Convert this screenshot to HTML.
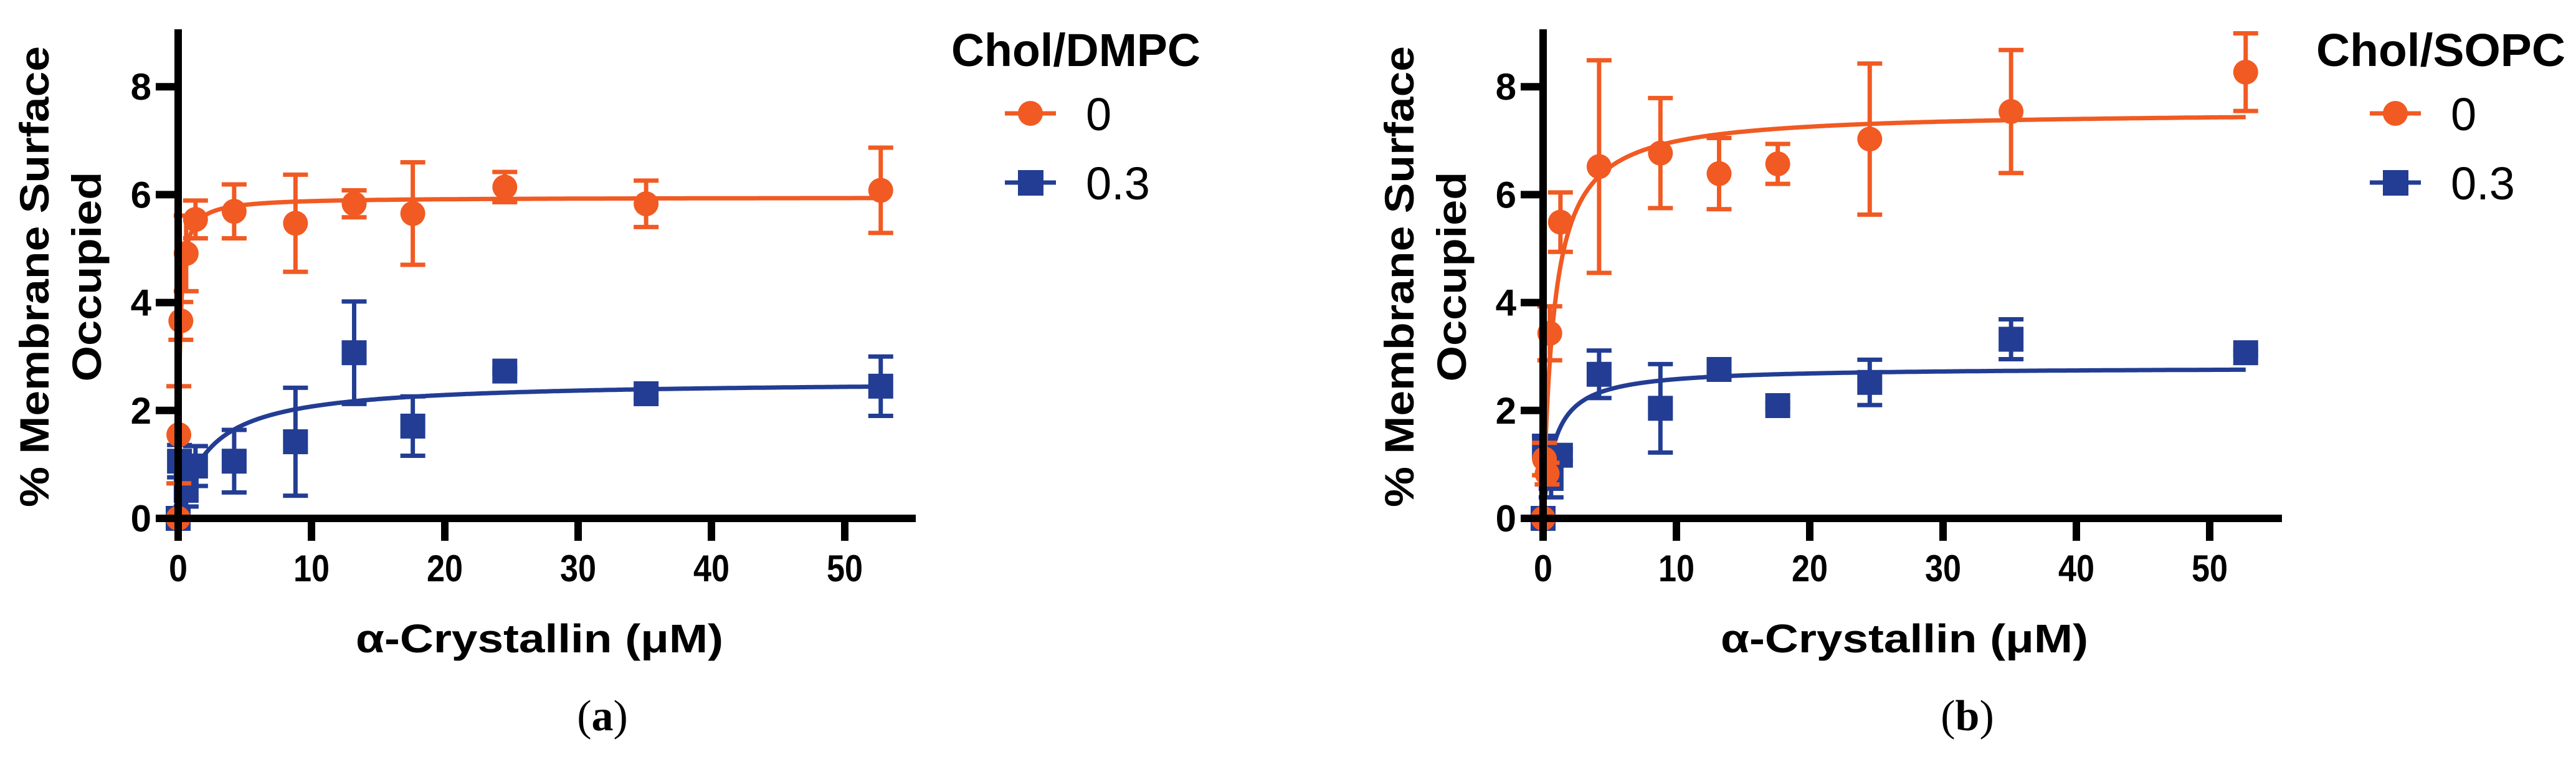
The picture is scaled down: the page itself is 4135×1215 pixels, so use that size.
<!DOCTYPE html>
<html><head><meta charset="utf-8"><style>
html,body{margin:0;padding:0;background:#fff;}
svg{display:block;}
text{font-family:"Liberation Sans",Arial,sans-serif;}
</style></head><body>
<svg id="fig" width="4135" height="1215" viewBox="0 0 4135 1215" xmlns="http://www.w3.org/2000/svg"></svg>
<script>
// ---- Data ----
const xTicks = [0,10,20,30,40,50];
const yTicks = [0,2,4,6,8];
// Panel (a) Chol/DMPC
const aOrangeX = [0,0.05,0.2,0.6,1.3,4.2,8.8,13.2,17.6,24.5,35.1,52.7];
const aOrangeY = [0,1.55,3.66,4.91,5.54,5.69,5.47,5.83,5.65,6.14,5.83,6.08];
const aOrangeErr = [0,0.9,0.35,0.7,0.35,0.5,0.9,0.25,0.95,0.28,0.43,0.79];
const aBlueX = [0,0.1,0.6,1.3,4.2,8.8,13.2,17.6,24.5,35.1,52.7];
const aBlueY = [0,1.06,0.52,0.97,1.06,1.42,3.07,1.71,2.73,2.31,2.45];
const aBlueErr = [0,0.3,0.3,0.37,0.58,1.0,0.95,0.55,0.05,0.1,0.55];
const aFitBmax = [5.95, 2.55];
const aFitKd = [0.12, 2.3];
// Panel (b) Chol/SOPC
const bOrangeX = [0,0.1,0.3,0.5,1.3,4.2,8.8,13.2,17.6,24.5,35.1,52.7];
const bOrangeY = [0,1.1,0.83,3.43,5.49,6.52,6.77,6.39,6.57,7.03,7.54,8.27];
const bOrangeErr = [0,0.3,0.2,0.5,0.55,1.97,1.02,0.66,0.37,1.4,1.14,0.72];
const bBlueX = [0,0.1,0.6,1.3,4.2,8.8,13.2,17.6,24.5,35.1,52.7];
const bBlueY = [0,1.33,0.74,1.17,2.67,2.04,2.76,2.09,2.52,3.32,3.07];
const bBlueErr = [0,0.2,0.35,0.1,0.44,0.82,0.05,0.05,0.42,0.37,0.05];
const bFitBmax = [7.55, 2.8];
const bFitKd = [0.8, 0.85];
const legendLabels = ["0","0.3"];

const NS = "http://www.w3.org/2000/svg";
const ORANGE = "#f15a22", BLUE = "#223d93";
const svg = document.getElementById('fig');
function el(tag, attrs, parent, txt){
  const e = document.createElementNS(NS, tag);
  for (const k in attrs) e.setAttribute(k, attrs[k]);
  if (txt !== undefined) e.textContent = txt;
  parent.appendChild(e); return e;
}
const X0 = 286, XU = 21.4, Y0 = 832, YU = 86.6;
function sx(v){ return X0 + v*XU; }
function sy(v){ return Y0 - v*YU; }

function drawSeries(g, xs, ys, es, color, shape, name){
  const sg = el('g', {}, g);
  
  
  for (let i=0;i<xs.length;i++){
    const cx = sx(xs[i]), cy = sy(ys[i]);
    if (es[i] > 0){
      const eb = el('g', {stroke: color, 'stroke-width': 7}, sg);
      
      
      const top = sy(ys[i]+es[i]), bot = sy(Math.max(0, ys[i]-es[i]));
      el('line', {x1:cx, x2:cx, y1:top, y2:bot}, eb);
      el('line', {x1:cx-20, x2:cx+20, y1:top, y2:top}, eb);
      el('line', {x1:cx-20, x2:cx+20, y1:bot, y2:bot}, eb);
    }
    let m;
    if (shape === 'circle') m = el('circle', {cx:cx, cy:cy, r:20, fill:color}, sg);
    else m = el('rect', {x:cx-20, y:cy-20, width:40, height:40, fill:color}, sg);
    
    
  }
}
function drawFit(g, bmax, kd, color, name){
  let d = '';
  for (let i=0;i<=600;i++){
    const x = 52.7 * Math.pow(i/600, 2.5);
    const y = bmax*x/(kd+x);
    d += (i?'L':'M') + sx(x).toFixed(1) + ',' + sy(y).toFixed(1);
  }
  const p = el('path', {d:d, fill:'none', stroke:color, 'stroke-width':7}, g);
  
  
}

function panel(offset, id, legendTitle, oX, oY, oE, bX, bY, bE, bmax, kd, tag){
  const g = el('g', {transform:'translate(' + offset + ',0)'}, svg);
  
  
  // y axis title
  const yt = el('g', {}, g);
  
  
  el('text', {x:0, y:0, transform:'translate(78,444) rotate(-90)', 'text-anchor':'middle', 'font-size':66, 'font-weight':'bold', textLength:740, lengthAdjust:'spacingAndGlyphs'}, yt, '% Membrane Surface');
  el('text', {x:0, y:0, transform:'translate(162,444) rotate(-90)', 'text-anchor':'middle', 'font-size':66, 'font-weight':'bold', textLength:337, lengthAdjust:'spacingAndGlyphs'}, yt, 'Occupied');
  // series (blue under orange)
  drawFit(g, bmax[1], kd[1], BLUE, 'blue-0.3');
  drawSeries(g, bX, bY, bE, BLUE, 'square', 'blue-0.3');
  drawFit(g, bmax[0], kd[0], ORANGE, 'orange-0');
  drawSeries(g, oX, oY, oE, ORANGE, 'circle', 'orange-0');
  // axes
  const ax = el('g', {stroke:'#000', 'stroke-width':12}, g);
  
  
  el('line', {x1:X0, x2:X0, y1:47, y2:Y0+6}, ax);
  el('line', {x1:X0-6, x2: id==='a'?1470:1472, y1:Y0, y2:Y0}, ax);
  yTicks.forEach(t=>{
    el('line', {x1:X0-36, x2:X0, y1:sy(t), y2:sy(t)}, ax);
    const tl = el('text', {x:243, y:sy(t)+21, 'text-anchor':'end', 'font-size':60, 'font-weight':'bold', stroke:'none'}, g, String(t));
    
    
  });
  xTicks.forEach(t=>{
    el('line', {x1:sx(t), x2:sx(t), y1:Y0, y2:Y0+36}, ax);
    const tl = el('text', {x:sx(t), y:933, 'text-anchor':'middle', 'font-size':60, 'font-weight':'bold', stroke:'none', textLength: t? 58:30, lengthAdjust:'spacingAndGlyphs'}, g, String(t));
    
    
  });
  const xt = el('text', {x:866, y:1047, 'text-anchor':'middle', 'font-size':64, 'font-weight':'bold', textLength:590, lengthAdjust:'spacingAndGlyphs'}, g, 'α-Crystallin (μM)');
  
  
  // legend
  const lg = el('g', {}, g);
  
  
  el('text', {x:1527, y:106, 'font-size':74, 'font-weight':'bold', textLength:400, lengthAdjust:'spacingAndGlyphs'}, lg, legendTitle);
  const cols = [ORANGE, BLUE], ys = [182, 293];
  legendLabels.forEach((lab,i)=>{
    const le = el('g', {}, lg);
    
    
    el('line', {x1:1613, x2:1695, y1:ys[i], y2:ys[i], stroke:cols[i], 'stroke-width':7}, le);
    if (i===0) el('circle', {cx:1654, cy:ys[i], r:20, fill:cols[i]}, le);
    else el('rect', {x:1634, y:ys[i]-20, width:41, height:41, fill:cols[i]}, le);
    el('text', {x:1743, y:ys[i]+27, 'font-size':74}, le, lab);
  });
  const pl = el('text', {x:967, y:1172, 'text-anchor':'middle', 'font-size':70, style:'font-family:"Liberation Serif",serif'}, g);
  
  
  el('tspan', {}, pl, '(');
  el('tspan', {'font-weight':'bold'}, pl, tag);
  el('tspan', {}, pl, ')');
}
panel(0, 'a', 'Chol/DMPC', aOrangeX, aOrangeY, aOrangeErr, aBlueX, aBlueY, aBlueErr, aFitBmax, aFitKd, 'a');
panel(2191, 'b', 'Chol/SOPC', bOrangeX, bOrangeY, bOrangeErr, bBlueX, bBlueY, bBlueErr, bFitBmax, bFitKd, 'b');
</script>
</body></html>
